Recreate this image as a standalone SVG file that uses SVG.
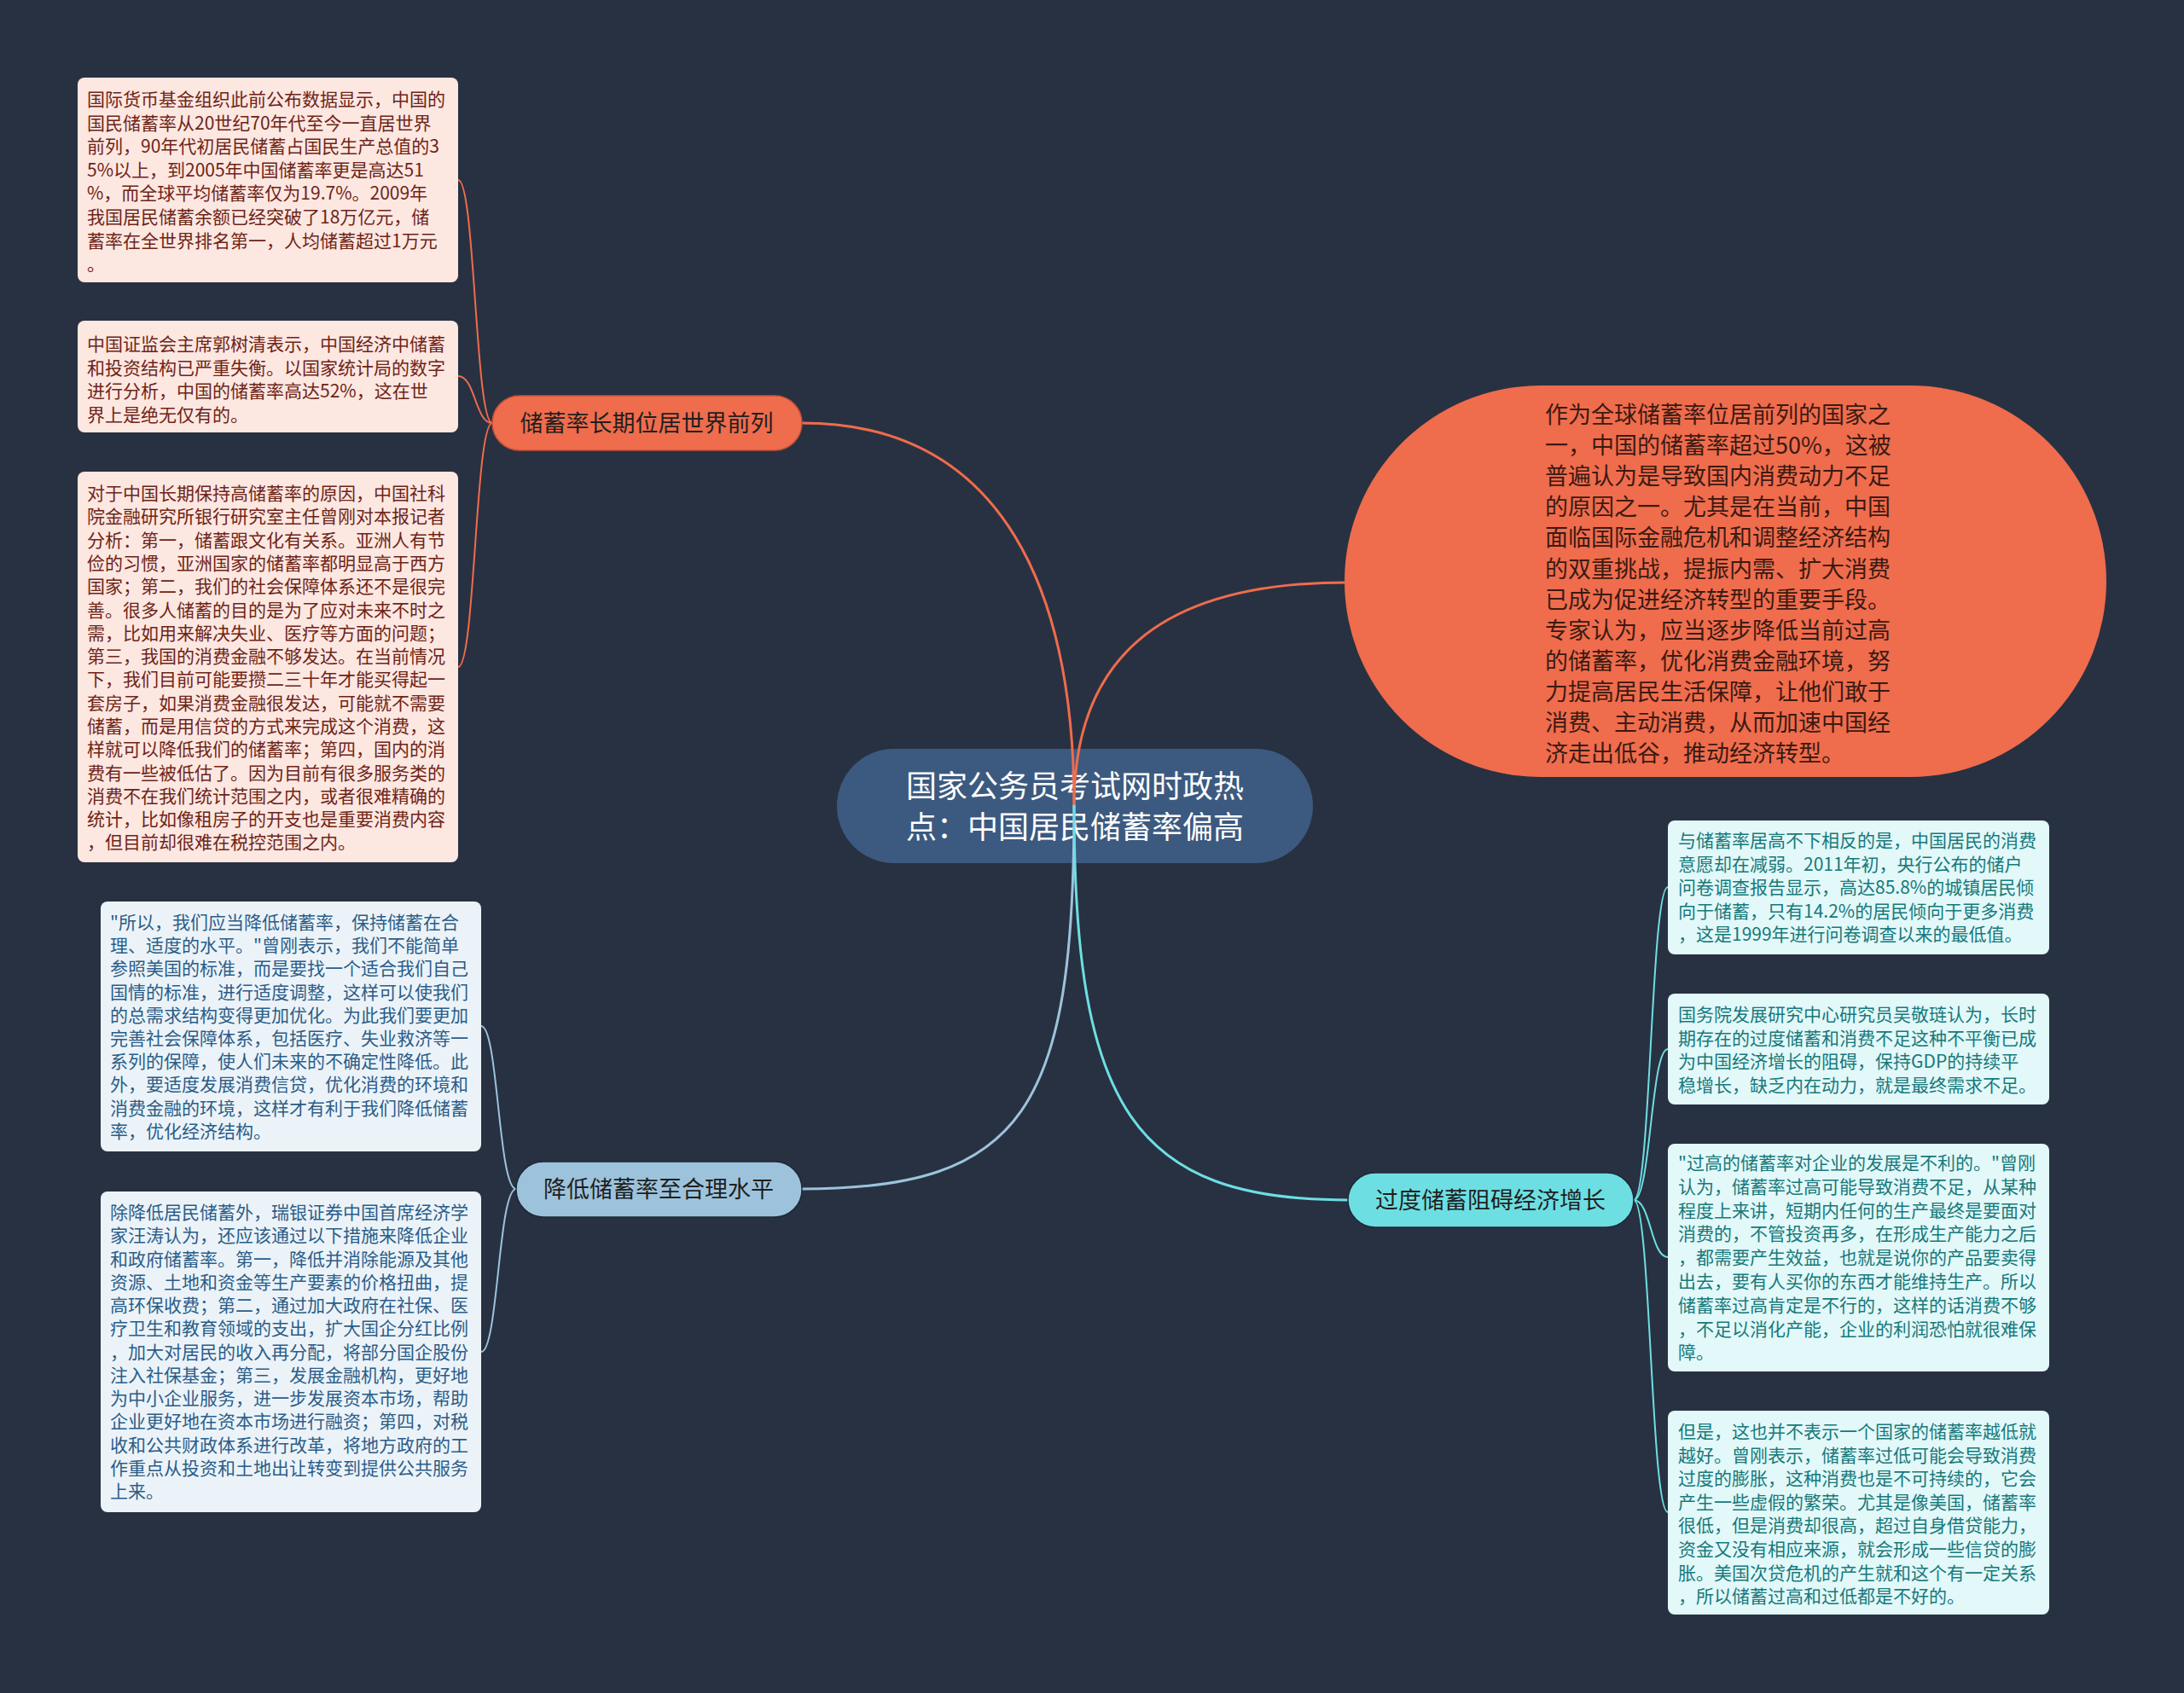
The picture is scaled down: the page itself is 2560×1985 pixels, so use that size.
<svg xmlns="http://www.w3.org/2000/svg" width="2560" height="1985" viewBox="0 0 2560 1985">
<style>
text{font-family:"Noto Sans CJK SC","Noto Sans",sans-serif;dominant-baseline:central}
.leaf{font-size:21px}
.lo{fill:#fde7e1}.lot{fill:#6e2417}
.lb{fill:#ebf3f9}.lbt{fill:#2b5d88}
.lc{fill:#e2f8f9}.lct{fill:#17797b}
.br{font-size:27px;fill:#1f1f1f}
.c{fill:none;stroke-linecap:round}
.co{stroke:#ef6c4d}.cb{stroke:#9dc3dc}.cc{stroke:#6ddfe3}
</style>
<rect width="2560" height="1985" fill="#283141"/>

<g id="root">
<rect x="981" y="878" width="558" height="134" rx="67" fill="#3c5a80"/>
<text x="1260" y="919" font-size="36" fill="#ffffff" text-anchor="middle">国家公务员考试网时政热</text>
<text x="1260" y="967" font-size="36" fill="#ffffff" text-anchor="middle">点：中国居民储蓄率偏高</text>
</g>

<g id="connectors">
<path class="c co" stroke-width="3" d="M1259,945 C1259,700 1180,496 940,496"/>
<path class="c co" stroke-width="3" d="M1259,945 C1259,780 1350,683 1578,683"/>
<path class="c cb" stroke-width="3" d="M1259,945 C1259,1300 1200,1394 940,1394"/>
<path class="c cc" stroke-width="3" d="M1259,945 C1259,1300 1330,1407 1580,1407"/>
<path class="c co" stroke-width="2" d="M577,496 C557,496 557,211 537,211"/>
<path class="c co" stroke-width="2" d="M577,496 C557,496 557,441 537,441"/>
<path class="c co" stroke-width="2" d="M577,496 C557,496 557,782 537,782"/>
<path class="c cb" stroke-width="2" d="M605,1394 C584,1394 584,1203 564,1203"/>
<path class="c cb" stroke-width="2" d="M605,1394 C584,1394 584,1585 564,1585"/>
<path class="c cc" stroke-width="2" d="M1915,1407 C1935,1407 1935,1040 1955,1040"/>
<path class="c cc" stroke-width="2" d="M1915,1407 C1935,1407 1935,1230 1955,1230"/>
<path class="c cc" stroke-width="2" d="M1915,1407 C1935,1407 1935,1474 1955,1474"/>
<path class="c cc" stroke-width="2" d="M1915,1407 C1935,1407 1935,1773 1955,1773"/>
</g>

<g id="b1">
<rect x="577" y="464" width="363" height="64" rx="32" fill="#ef6c4d" stroke="#c4513a" stroke-width="1.5"/>
<text class="br" x="758" y="494" text-anchor="middle" fill="#3b1a12">储蓄率长期位居世界前列</text>
</g>

<g id="b2">
<rect x="1576" y="452" width="893" height="459" rx="229.5" fill="#ef6c4d"/>
<text x="1811" y="484" font-size="27" fill="#3b1a12">
<tspan x="1811" dy="0">作为全球储蓄率位居前列的国家之</tspan>
<tspan x="1811" dy="36.1">一，中国的储蓄率超过50%，这被</tspan>
<tspan x="1811" dy="36.1">普遍认为是导致国内消费动力不足</tspan>
<tspan x="1811" dy="36.1">的原因之一。尤其是在当前，中国</tspan>
<tspan x="1811" dy="36.1">面临国际金融危机和调整经济结构</tspan>
<tspan x="1811" dy="36.1">的双重挑战，提振内需、扩大消费</tspan>
<tspan x="1811" dy="36.1">已成为促进经济转型的重要手段。</tspan>
<tspan x="1811" dy="36.1">专家认为，应当逐步降低当前过高</tspan>
<tspan x="1811" dy="36.1">的储蓄率，优化消费金融环境，努</tspan>
<tspan x="1811" dy="36.1">力提高居民生活保障，让他们敢于</tspan>
<tspan x="1811" dy="36.1">消费、主动消费，从而加速中国经</tspan>
<tspan x="1811" dy="36.1">济走出低谷，推动经济转型。</tspan>
</text>
</g>

<g id="b3">
<rect x="605" y="1362" width="335" height="65" rx="32" fill="#9dc3dc" stroke="#1e2836" stroke-width="1.5"/>
<text class="br" x="772" y="1392" text-anchor="middle" fill="#1e2a38">降低储蓄率至合理水平</text>
</g>

<g id="b4">
<rect x="1580" y="1375" width="335" height="64" rx="32" fill="#6ddfe3" stroke="#1e2836" stroke-width="1.5"/>
<text class="br" x="1747" y="1405" text-anchor="middle" fill="#16363a">过度储蓄阻碍经济增长</text>
</g>

<g id="leafA">
<rect class="lo" x="91" y="91" width="446" height="240" rx="8"/>
<text class="leaf lot" x="102" y="115">
<tspan x="102" dy="0">国际货币基金组织此前公布数据显示，中国的</tspan>
<tspan x="102" dy="27.6">国民储蓄率从20世纪70年代至今一直居世界</tspan>
<tspan x="102" dy="27.6">前列，90年代初居民储蓄占国民生产总值的3</tspan>
<tspan x="102" dy="27.6">5%以上，到2005年中国储蓄率更是高达51</tspan>
<tspan x="102" dy="27.6">%，而全球平均储蓄率仅为19.7%。2009年</tspan>
<tspan x="102" dy="27.6">我国居民储蓄余额已经突破了18万亿元，储</tspan>
<tspan x="102" dy="27.6">蓄率在全世界排名第一，人均储蓄超过1万元</tspan>
<tspan x="102" dy="27.6">。</tspan>
</text>
</g>

<g id="leafB">
<rect class="lo" x="91" y="376" width="446" height="131" rx="8"/>
<text class="leaf lot" x="102" y="402">
<tspan x="102" dy="0">中国证监会主席郭树清表示，中国经济中储蓄</tspan>
<tspan x="102" dy="27.5">和投资结构已严重失衡。以国家统计局的数字</tspan>
<tspan x="102" dy="27.5">进行分析，中国的储蓄率高达52%，这在世</tspan>
<tspan x="102" dy="27.5">界上是绝无仅有的。</tspan>
</text>
</g>

<g id="leafC">
<rect class="lo" x="91" y="553" width="446" height="458" rx="8"/>
<text class="leaf lot" x="102" y="577">
<tspan x="102" dy="0">对于中国长期保持高储蓄率的原因，中国社科</tspan>
<tspan x="102" dy="27.3">院金融研究所银行研究室主任曾刚对本报记者</tspan>
<tspan x="102" dy="27.3">分析：第一，储蓄跟文化有关系。亚洲人有节</tspan>
<tspan x="102" dy="27.3">俭的习惯，亚洲国家的储蓄率都明显高于西方</tspan>
<tspan x="102" dy="27.3">国家；第二，我们的社会保障体系还不是很完</tspan>
<tspan x="102" dy="27.3">善。很多人储蓄的目的是为了应对未来不时之</tspan>
<tspan x="102" dy="27.3">需，比如用来解决失业、医疗等方面的问题；</tspan>
<tspan x="102" dy="27.3">第三，我国的消费金融不够发达。在当前情况</tspan>
<tspan x="102" dy="27.3">下，我们目前可能要攒二三十年才能买得起一</tspan>
<tspan x="102" dy="27.3">套房子，如果消费金融很发达，可能就不需要</tspan>
<tspan x="102" dy="27.3">储蓄，而是用信贷的方式来完成这个消费，这</tspan>
<tspan x="102" dy="27.3">样就可以降低我们的储蓄率；第四，国内的消</tspan>
<tspan x="102" dy="27.3">费有一些被低估了。因为目前有很多服务类的</tspan>
<tspan x="102" dy="27.3">消费不在我们统计范围之内，或者很难精确的</tspan>
<tspan x="102" dy="27.3">统计，比如像租房子的开支也是重要消费内容</tspan>
<tspan x="102" dy="27.3">，但目前却很难在税控范围之内。</tspan>
</text>
</g>

<g id="leafD">
<rect class="lb" x="118" y="1057" width="446" height="293" rx="8"/>
<text class="leaf lbt" x="129" y="1080">
<tspan x="129" dy="0">"所以，我们应当降低储蓄率，保持储蓄在合</tspan>
<tspan x="129" dy="27.2">理、适度的水平。"曾刚表示，我们不能简单</tspan>
<tspan x="129" dy="27.2">参照美国的标准，而是要找一个适合我们自己</tspan>
<tspan x="129" dy="27.2">国情的标准，进行适度调整，这样可以使我们</tspan>
<tspan x="129" dy="27.2">的总需求结构变得更加优化。为此我们要更加</tspan>
<tspan x="129" dy="27.2">完善社会保障体系，包括医疗、失业救济等一</tspan>
<tspan x="129" dy="27.2">系列的保障，使人们未来的不确定性降低。此</tspan>
<tspan x="129" dy="27.2">外，要适度发展消费信贷，优化消费的环境和</tspan>
<tspan x="129" dy="27.2">消费金融的环境，这样才有利于我们降低储蓄</tspan>
<tspan x="129" dy="27.2">率，优化经济结构。</tspan>
</text>
</g>

<g id="leafE">
<rect class="lb" x="118" y="1397" width="446" height="376" rx="8"/>
<text class="leaf lbt" x="129" y="1420">
<tspan x="129" dy="0">除降低居民储蓄外，瑞银证券中国首席经济学</tspan>
<tspan x="129" dy="27.25">家汪涛认为，还应该通过以下措施来降低企业</tspan>
<tspan x="129" dy="27.25">和政府储蓄率。第一，降低并消除能源及其他</tspan>
<tspan x="129" dy="27.25">资源、土地和资金等生产要素的价格扭曲，提</tspan>
<tspan x="129" dy="27.25">高环保收费；第二，通过加大政府在社保、医</tspan>
<tspan x="129" dy="27.25">疗卫生和教育领域的支出，扩大国企分红比例</tspan>
<tspan x="129" dy="27.25">，加大对居民的收入再分配，将部分国企股份</tspan>
<tspan x="129" dy="27.25">注入社保基金；第三，发展金融机构，更好地</tspan>
<tspan x="129" dy="27.25">为中小企业服务，进一步发展资本市场，帮助</tspan>
<tspan x="129" dy="27.25">企业更好地在资本市场进行融资；第四，对税</tspan>
<tspan x="129" dy="27.25">收和公共财政体系进行改革，将地方政府的工</tspan>
<tspan x="129" dy="27.25">作重点从投资和土地出让转变到提供公共服务</tspan>
<tspan x="129" dy="27.25">上来。</tspan>
</text>
</g>

<g id="leafF">
<rect class="lc" x="1955" y="962" width="447" height="157" rx="8"/>
<text class="leaf lct" x="1967" y="984">
<tspan x="1967" dy="0">与储蓄率居高不下相反的是，中国居民的消费</tspan>
<tspan x="1967" dy="27.5">意愿却在减弱。2011年初，央行公布的储户</tspan>
<tspan x="1967" dy="27.5">问卷调查报告显示，高达85.8%的城镇居民倾</tspan>
<tspan x="1967" dy="27.5">向于储蓄，只有14.2%的居民倾向于更多消费</tspan>
<tspan x="1967" dy="27.5">，这是1999年进行问卷调查以来的最低值。</tspan>
</text>
</g>

<g id="leafG">
<rect class="lc" x="1955" y="1165" width="447" height="130" rx="8"/>
<text class="leaf lct" x="1967" y="1188">
<tspan x="1967" dy="0">国务院发展研究中心研究员吴敬琏认为，长时</tspan>
<tspan x="1967" dy="27.5">期存在的过度储蓄和消费不足这种不平衡已成</tspan>
<tspan x="1967" dy="27.5">为中国经济增长的阻碍，保持GDP的持续平</tspan>
<tspan x="1967" dy="27.5">稳增长，缺乏内在动力，就是最终需求不足。</tspan>
</text>
</g>

<g id="leafH">
<rect class="lc" x="1955" y="1341" width="447" height="267" rx="8"/>
<text class="leaf lct" x="1967" y="1362">
<tspan x="1967" dy="0">"过高的储蓄率对企业的发展是不利的。"曾刚</tspan>
<tspan x="1967" dy="27.8">认为，储蓄率过高可能导致消费不足，从某种</tspan>
<tspan x="1967" dy="27.8">程度上来讲，短期内任何的生产最终是要面对</tspan>
<tspan x="1967" dy="27.8">消费的，不管投资再多，在形成生产能力之后</tspan>
<tspan x="1967" dy="27.8">，都需要产生效益，也就是说你的产品要卖得</tspan>
<tspan x="1967" dy="27.8">出去，要有人买你的东西才能维持生产。所以</tspan>
<tspan x="1967" dy="27.8">储蓄率过高肯定是不行的，这样的话消费不够</tspan>
<tspan x="1967" dy="27.8">，不足以消化产能，企业的利润恐怕就很难保</tspan>
<tspan x="1967" dy="27.8">障。</tspan>
</text>
</g>

<g id="leafI">
<rect class="lc" x="1955" y="1654" width="447" height="239" rx="8"/>
<text class="leaf lct" x="1967" y="1677">
<tspan x="1967" dy="0">但是，这也并不表示一个国家的储蓄率越低就</tspan>
<tspan x="1967" dy="27.6">越好。曾刚表示，储蓄率过低可能会导致消费</tspan>
<tspan x="1967" dy="27.6">过度的膨胀，这种消费也是不可持续的，它会</tspan>
<tspan x="1967" dy="27.6">产生一些虚假的繁荣。尤其是像美国，储蓄率</tspan>
<tspan x="1967" dy="27.6">很低，但是消费却很高，超过自身借贷能力，</tspan>
<tspan x="1967" dy="27.6">资金又没有相应来源，就会形成一些信贷的膨</tspan>
<tspan x="1967" dy="27.6">胀。美国次贷危机的产生就和这个有一定关系</tspan>
<tspan x="1967" dy="27.6">，所以储蓄过高和过低都是不好的。</tspan>
</text>
</g>
</svg>
